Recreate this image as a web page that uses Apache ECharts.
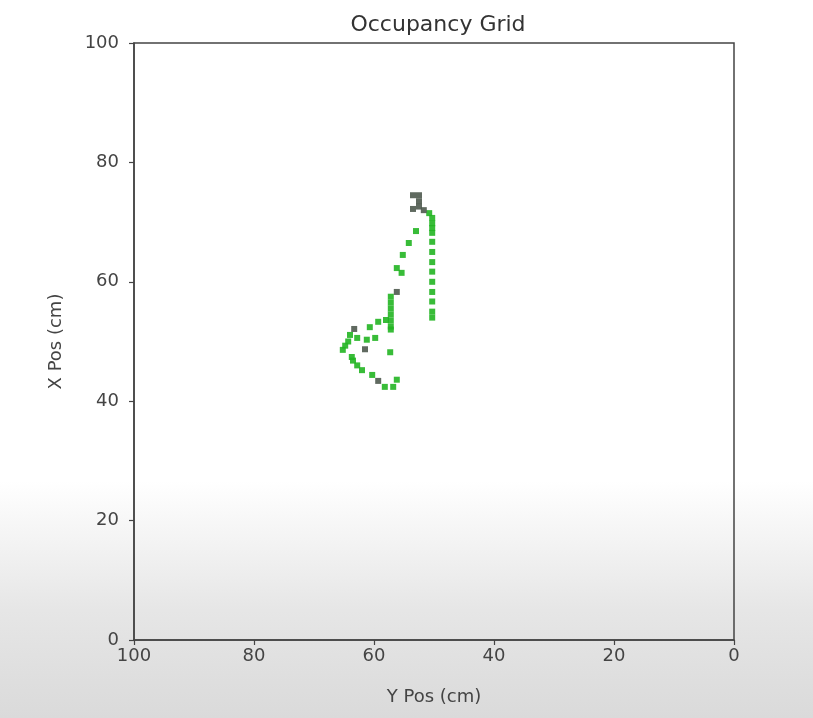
<!DOCTYPE html>
<html><head><meta charset="utf-8">
<script src="https://cdn.jsdelivr.net/npm/echarts@6/dist/echarts.min.js"></script>
<style>
html,body{margin:0;padding:0;}
body{width:813px;height:718px;background:linear-gradient(to bottom,#ffffff 0%,#ffffff 67%,#e6e6e6 85%,#dadada 100%);}
#c{width:813px;height:718px;}
</style></head>
<body><div id="c"></div>
<script>
const xTicks = [0,20,40,60,80,100];
const yTicks = [0,20,40,60,80,100];
// occupied cells (horizontal = Y Pos, vertical = X Pos)
const greenX = [50.8,50.3,50.3,50.3,50.3, 50.3,50.3,50.3,50.3,50.3,50.3,50.3,50.3,50.3,
  53,54.2,55.2,56.2,55.4,
  57.2,57.2,57.2,57.2,57.2,57.2,57.2,
  64,60.7,59.3,58,
  62.8,61.2,59.8,
  65.2,64.3,63.7,62.8,62,60.3,58.2,56.8,56.2,57.3,64.8,63.5];
const greenY = [71.5,70.7,69.8,69,68.2, 66.7,65,63.3,61.7,60,58.3,56.7,55,54,
  68.5,66.5,64.5,62.3,61.5,
  57.5,56.5,55.5,54.5,53.5,52.5,52,
  51.1,52.4,53.3,53.6,
  50.6,50.3,50.6,
  48.6,50,47.4,46,45.2,44.4,42.4,42.4,43.6,48.2,49.3,46.8];
const darkX = [53.5,52.5,52.5,53.5,52.5,51.7,56.2,63.3,61.5,59.3];
const darkY = [74.5,74.5,73.5,72.2,72.6,72,58.3,52.1,48.7,43.4];

const chart = echarts.init(document.getElementById('c'));
const font = 'DejaVu Sans';
chart.setOption({
  backgroundColor: 'transparent',
  animation: false,
  title: {text: 'Occupancy Grid', left: 433, top: 9, textAlign: 'center',
    textStyle: {fontFamily: font, fontSize: 22, fontWeight: 'normal', color: '#333'}},
  grid: {left: 134, right: 79, top: 43, bottom: 78, show: true, borderColor: '#444', borderWidth: 1.5},
  xAxis: {type: 'value', inverse: true, min: 0, max: 100, interval: 20, position: 'bottom',
    name: 'Y Pos (cm)', nameLocation: 'middle', nameGap: 48,
    nameTextStyle: {fontFamily: font, fontSize: 18, color: '#444'},
    axisLine: {show: true, onZero: false, lineStyle: {color: '#444', width: 1.5}},
    axisTick: {show: true, inside: false, length: 5, lineStyle: {color: '#444', width: 1.2}},
    axisLabel: {fontFamily: font, fontSize: 18, color: '#444', margin: 7,
      formatter: v => xTicks.includes(v) ? String(v) : ''},
    splitLine: {show: false}},
  yAxis: {type: 'value', min: 0, max: 100, interval: 20, position: 'left',
    name: 'X Pos (cm)', nameLocation: 'middle', nameGap: 69,
    nameTextStyle: {fontFamily: font, fontSize: 18, color: '#444'},
    axisLine: {show: true, onZero: false, lineStyle: {color: '#444', width: 1.5}},
    axisTick: {show: true, inside: false, length: 5, lineStyle: {color: '#444', width: 1.2}},
    axisLabel: {fontFamily: font, fontSize: 18, color: '#444', margin: 15,
      formatter: v => yTicks.includes(v) ? String(v) : ''},
    splitLine: {show: false}},
  series: [
    {type: 'scatter', symbol: 'rect', symbolSize: 6,
      itemStyle: {color: '#22b522', opacity: 0.9},
      data: greenX.map((x, i) => [x, greenY[i]])},
    {type: 'scatter', symbol: 'rect', symbolSize: 6,
      itemStyle: {color: '#4f5a4f', opacity: 0.9},
      data: darkX.map((x, i) => [x, darkY[i]])}
  ]
});
</script></body></html>
